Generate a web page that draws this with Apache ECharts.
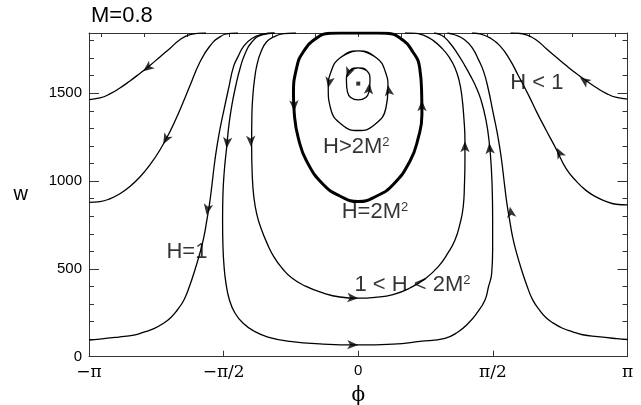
<!DOCTYPE html>
<html><head><meta charset="utf-8">
<script src="https://cdn.jsdelivr.net/npm/echarts@6/dist/echarts.min.js"></script>
<style>html,body{margin:0;padding:0;background:#fff}#c{width:641px;height:405px}</style>
</head><body><div id="c"></div>
<script>
const PI = Math.PI;
const W_MAX = 1843;
// tick values / labels
const xTickValues = [-PI, -PI/2, 0, PI/2, PI];
const xTickLabels = ['−π', '−π/2', '0', 'π/2', 'π'];
const yTickValues = [0, 500, 1000, 1500];
const yMinorValues = [100,200,300,400,600,700,800,900,1100,1200,1300,1400,1600,1700,1800];
const topTickValues = [-3,-2.5,-2,-1.5,-1,-0.5,0,0.5,1,1.5,2,2.5,3];

// trajectories: [phi (rad), w], listed in flow direction
const c1L = [[-1.777,1843],[-1.847,1842],[-1.964,1834],[-2.081,1805],[-2.198,1755],[-2.314,1707],[-2.431,1658],[-2.548,1613],[-2.664,1570],[-2.781,1530],[-2.898,1496],[-3.014,1473],[-3.1416,1464]];
const c1R = [[3.1416,1467],[3.014,1476],[2.898,1498],[2.781,1531],[2.664,1570],[2.548,1611],[2.431,1656],[2.314,1704],[2.198,1752],[2.081,1802],[1.964,1832],[1.847,1842],[1.777,1843]];
const c2L = [[-1.404,1843],[-1.497,1841],[-1.614,1821],[-1.731,1769],[-1.847,1678],[-1.964,1542],[-2.081,1405],[-2.198,1280],[-2.314,1177],[-2.431,1092],[-2.548,1023],[-2.664,969],[-2.781,928],[-2.898,899],[-3.014,883],[-3.1416,879]];
const c2R = [[3.1416,864],[3.007,868],[2.891,884],[2.774,910],[2.657,947],[2.541,1001],[2.424,1072],[2.315,1177],[2.191,1291],[2.081,1394],[1.984,1492],[1.864,1604],[1.770,1690],[1.654,1770],[1.537,1815],[1.420,1838],[1.327,1843]];
const h1L = [[-0.984,1843],[-1.124,1835],[-1.241,1812],[-1.334,1770],[-1.404,1707],[-1.456,1650],[-1.509,1536],[-1.567,1405],[-1.626,1263],[-1.672,1120],[-1.707,978],[-1.737,864],[-1.766,779],[-1.801,682],[-1.847,591],[-1.906,494],[-1.964,408],[-2.034,323],[-2.116,263],[-2.186,223],[-2.268,192],[-2.384,160],[-2.501,140],[-2.618,123],[-2.793,112],[-3.014,100],[-3.1416,95]];
const h1R = [[3.1416,98],[3.014,103],[2.793,114],[2.618,125],[2.501,142],[2.384,162],[2.268,194],[2.186,225],[2.116,265],[2.034,325],[1.964,410],[1.906,494],[1.847,591],[1.801,682],[1.766,779],[1.737,864],[1.707,978],[1.672,1120],[1.626,1263],[1.567,1405],[1.519,1520],[1.465,1620],[1.404,1690],[1.334,1755],[1.241,1805],[1.124,1833],[1.040,1843]];
const uCurve = [[-0.972,1843],[-1.124,1832],[-1.241,1792],[-1.322,1724],[-1.381,1638],[-1.427,1547],[-1.474,1434],[-1.509,1320],[-1.536,1189],[-1.562,1063],[-1.579,921],[-1.583,779],[-1.579,636],[-1.567,522],[-1.544,420],[-1.503,323],[-1.439,249],[-1.346,192],[-1.217,146],[-1.054,112],[-0.797,87],[-0.412,72],[0,67],[0.405,72],[0.720,87],[1.012,105],[1.164,141],[1.284,190],[1.385,249],[1.479,323],[1.519,397],[1.557,475],[1.568,608],[1.568,779],[1.566,892],[1.554,1063],[1.529,1217],[1.490,1348],[1.432,1462],[1.374,1536],[1.323,1587],[1.245,1656],[1.152,1730],[1.059,1792],[0.977,1829],[0.883,1843]];
const hMid = [[-0.727,1843],[-0.867,1839],[-0.984,1821],[-1.071,1792],[-1.136,1735],[-1.182,1661],[-1.211,1576],[-1.229,1490],[-1.241,1377],[-1.244,1206],[-1.237,1035],[-1.217,904],[-1.182,807],[-1.136,733],[-1.066,648],[-0.984,568],[-0.890,505],[-0.774,448],[-0.622,403],[-0.412,363],[-0.214,340],[0,333],[0.195,338],[0.405,354],[0.603,391],[0.778,443],[0.934,513],[1.047,591],[1.129,665],[1.187,756],[1.225,854],[1.239,978],[1.245,1120],[1.245,1227],[1.234,1348],[1.207,1492],[1.175,1576],[1.129,1644],[1.059,1707],[0.973,1758],[0.872,1801],[0.767,1829],[0.650,1842],[0.545,1843]];
const sepLoop = [[0,1843],[-0.214,1843],[-0.330,1841],[-0.485,1815],[-0.642,1735],[-0.719,1644],[-0.756,1492],[-0.745,1377],[-0.700,1246],[-0.602,1113],[-0.408,980],[-0.214,915],[0,883],[0.215,915],[0.408,980],[0.603,1113],[0.700,1246],[0.743,1377],[0.740,1492],[0.717,1644],[0.638,1735],[0.487,1815],[0.331,1841],[0.215,1843],[0,1843]];
const inner1 = [[0,1741],[-0.214,1701],[-0.319,1621],[-0.350,1530],[-0.324,1416],[-0.190,1321],[0,1288],[0.190,1321],[0.323,1416],[0.347,1530],[0.317,1621],[0.214,1701],[0,1741]];
const inner2 = [[0,1645],[-0.097,1630],[-0.138,1576],[-0.126,1508],[0,1462],[0.125,1508],[0.137,1576],[0.097,1630],[0,1645]];
const fixedPoint = [[0,1555]];

// arrows: [trajectory, phi, w]
const arrows = [
  ['c1L',-2.509,1625],['c2L',-2.276,1210],['h1L',-1.769,807],['uCurve',-1.536,1187],
  ['hMid',-1.252,1196],['sepLoop',-0.745,1398],['inner1',-0.350,1530],['inner2',-0.135,1587],
  ['inner2',0.130,1557],['inner1',0.345,1547],['sepLoop',0.742,1460],['hMid',1.245,1227],
  ['uCurve',1.529,1217],['h1R',1.770,854],['c2R',2.315,1189],['c1R',2.587,1590],
  ['hMid',0,333],['uCurve',0,67]
];

// annotations
const notes = [
  ['{n|H < 1}', 2.085, 1559],
  ['{n|H>2M}{s|2}', -0.023, 1197],
  ['{n|H=2M}{s|2}', 0.195, 827],
  ['{n|1 < H < 2M}{s|2}', 0.633, 408],
  ['{n|H=1}', -1.999, 599]
];

const curves = {c1L, c1R, c2L, c2R, h1L, h1R, uCurve, hMid, sepLoop, inner1, inner2};
const widths = {sepLoop: 3};
const loops = {sepLoop:1, inner1:1, inner2:1};

const chart = echarts.init(document.getElementById('c'), null, {renderer:'canvas'});
const FONT = 'Liberation Sans';
const frame = {show:true, onZero:false, lineStyle:{color:'#333', width:1}};
const noLine = {show:false, onZero:false};

function curveData(k){
  const d = curves[k];
  if (loops[k]) { const n = d.length; return [d[n-2]].concat(d, [d[1]]); }
  return d;
}

const lineSeries = Object.keys(curves).map(k => ({
  type:'line', name:k, data: curveData(k), smooth: 0.5, showSymbol:false, symbol:'none',
  lineStyle:{color:'#000', width: widths[k] || 1.3}, animation:false, z:3,
  xAxisIndex:0, yAxisIndex:0
}));

const yAx = (pos, major, labels, line) => ({
  type:'value', min:0, max:W_MAX, position:pos,
  axisLine: line ? frame : noLine,
  splitLine:{show:false},
  axisTick:{show:true, inside:true, length: major ? 10 : 5, customValues: major ? yTickValues : yMinorValues, lineStyle:{color:'#333'}},
  axisLabel: labels ? {show:true, customValues: yTickValues, formatter: v => String(v), fontFamily:FONT, fontSize:15, color:'#000', margin:7} : {show:false}
});

const option = {
  animation:false,
  backgroundColor:'#fff',
  title:{text:'M=0.8', left:91, top:5, padding:0, textStyle:{fontFamily:FONT, fontSize:22, fontWeight:'normal', color:'#000'}},
  grid:{left:89, right:13.5, top:33, bottom:48.3, outerBoundsMode:'none'},
  xAxis:[
    {type:'value', min:-PI, max:PI, position:'bottom', axisLine:frame, splitLine:{show:false},
     axisTick:{show:true, inside:true, length:6, customValues:[-PI/2,0,PI/2], lineStyle:{color:'#333'}},
     axisLabel:{show:true, customValues:xTickValues, margin:7,
       formatter:(v)=>{ let i=0,b=1e9; xTickValues.forEach((t,j)=>{if(Math.abs(t-v)<b){b=Math.abs(t-v);i=j;}}); return xTickLabels[i]==='0' ? '{z|0}' : '{p|'+xTickLabels[i]+'}'; },
       rich:{p:{fontFamily:'DejaVu Serif', fontSize:17, color:'#000'}, z:{fontFamily:FONT, fontSize:15, color:'#000'}}},
     name:'ϕ', nameLocation:'middle', nameGap:24, nameTextStyle:{fontFamily:'DejaVu Serif', fontSize:20, color:'#000'}},
    {type:'value', min:-PI, max:PI, position:'top', axisLine:frame, splitLine:{show:false},
     axisTick:{show:true, inside:true, length:4, customValues:topTickValues, lineStyle:{color:'#333'}},
     axisLabel:{show:false}}
  ],
  yAxis:[
    Object.assign(yAx('left', true, true, true), {name:'w', nameLocation:'middle', nameGap:61, nameRotate:0, nameTextStyle:{fontFamily:FONT, fontSize:20, color:'#000', padding:[0,0,9,0]}}),
    yAx('left', false, false, false),
    yAx('right', true, false, true),
    yAx('right', false, false, false)
  ],
  series: lineSeries.concat([
    {type:'scatter', data:fixedPoint, symbol:'rect', symbolSize:4, itemStyle:{color:'#000'}, z:5, animation:false},
    {type:'scatter', data: notes.map(n=>({value:[n[1],n[2]], label:{formatter:n[0]}})), symbolSize:0, z:6, animation:false,
     label:{show:true, position:'inside', color:'#000',
       rich:{n:{fontFamily:FONT, fontSize:22, color:'#000'}, s:{fontFamily:FONT, fontSize:13, color:'#000', verticalAlign:'top'}}}}
  ])
};
chart.setOption(option);

function arrowRot(key, p){
  const toPx = q => chart.convertToPixel({xAxisIndex:0, yAxisIndex:0}, q);
  const P = curves[key].map(toPx), a = toPx(p);
  let best = 1e18, dir = [0,1];
  for (let i=0;i<P.length-1;i++){
    const x1=P[i][0], y1=P[i][1], dx=P[i+1][0]-x1, dy=P[i+1][1]-y1, L=dx*dx+dy*dy;
    if (!L) continue;
    let t=((a[0]-x1)*dx+(a[1]-y1)*dy)/L; t=Math.max(0,Math.min(1,t));
    const ex=x1+t*dx-a[0], ey=y1+t*dy-a[1], d=ex*ex+ey*ey;
    if (d<best){best=d; dir=[dx,dy];}
  }
  return Math.atan2(-dir[0], -dir[1])*180/PI;
}
chart.setOption({series: option.series.concat([{
  type:'scatter', symbol:'arrow', symbolSize:[7,11], itemStyle:{color:'#000'}, z:7, animation:false,
  data: arrows.map(a=>({value:[a[1],a[2]], symbolRotate: arrowRot(a[0], [a[1],a[2]])}))
}])});
</script>
</body></html>
